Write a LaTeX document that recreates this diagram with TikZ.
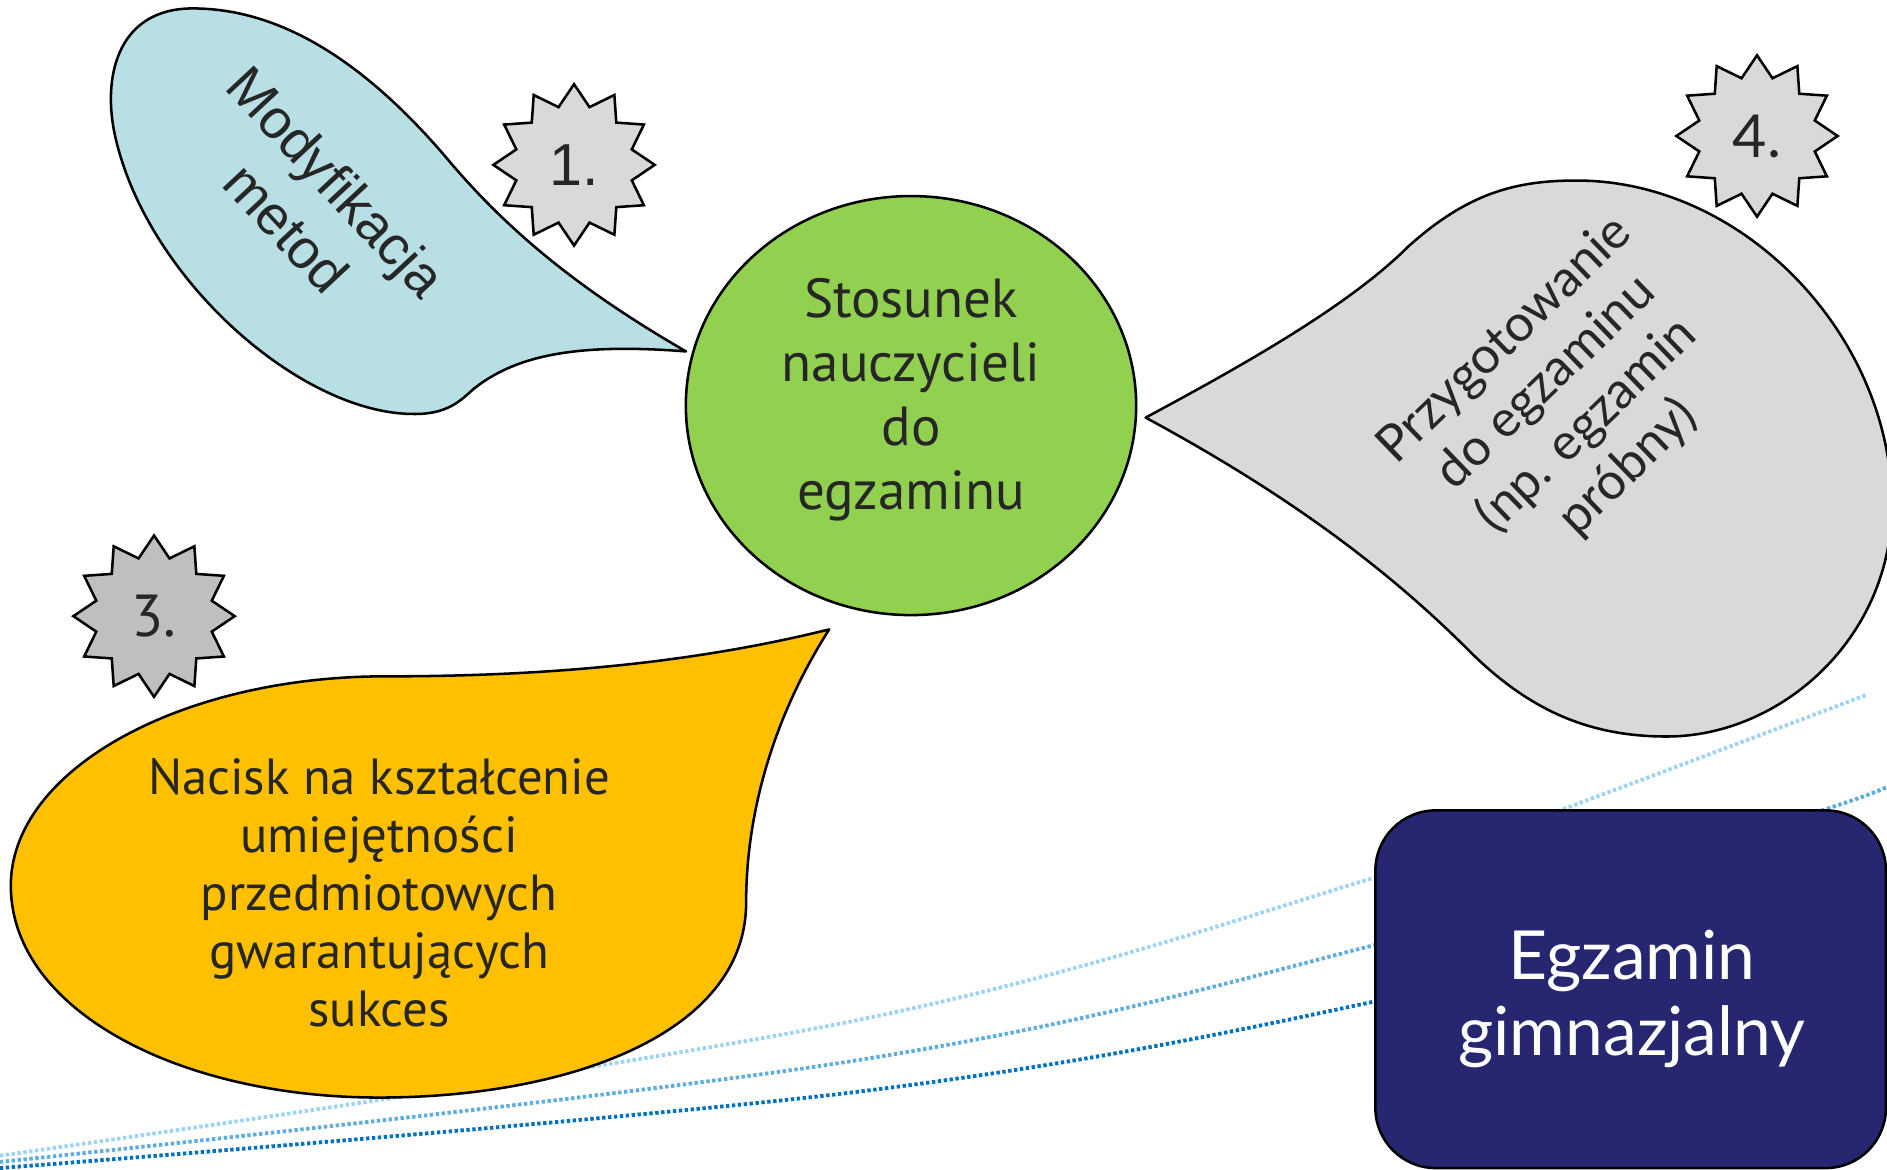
\documentclass[tikz,border=0pt]{standalone}
\usepackage{fontspec}
\setmainfont{PT Sans}
\newfontfamily\arialfont{Liberation Sans}
\newfontfamily\latofont{Lato}
\usepackage{tikz}
\usetikzlibrary{shapes.geometric}

\definecolor{textgray}{HTML}{262626}
\definecolor{dropblue}{HTML}{B7DFE4}
\definecolor{dropgray}{HTML}{D9D9D9}
\definecolor{dropgold}{HTML}{FFC000}
\definecolor{relgreen}{HTML}{92D050}
\definecolor{examnavy}{HTML}{262671}
\definecolor{starlight}{HTML}{D9D9D9}
\definecolor{stardark}{HTML}{BFBFBF}
\definecolor{dotlight}{HTML}{9DD3F5}
\definecolor{dotmid}{HTML}{5DADE2}
\definecolor{dotdark}{HTML}{0070C0}

\begin{document}
\begin{tikzpicture}[x=0.01cm, y=-0.01cm, line width=0.6pt,
drop/.style={draw=black, line join=round},
badge/.style={draw, star, star points=12, star point ratio=1.35,
minimum size=1.34cm, inner sep=0pt, text=textgray},
txt/.style={align=center, text=textgray, inner sep=0pt},
dots/.style={dash pattern=on 0.8pt off 0.6pt, line width=0.9pt}]
\useasboundingbox (0,0) rectangle (1568,972);

\draw[dots, dotlight] plot[smooth, tension=0.6] coordinates
{(-5,961) (706,849) (1143,729) (1300,672) (1552,577)};
\draw[dots, dotmid] plot[smooth, tension=0.6] coordinates
{(-5,966) (706,882) (1143,785) (1515,673) (1575,648)};
\draw[dots, dotdark] plot[smooth, tension=0.6] coordinates
{(-5,971) (706,908) (1143,832) (1400,760)};

\draw[drop, fill=dropblue] (570,292) .. controls (480,240) and (420,190) .. (370,130)
.. controls (310,60) and (240,7) .. (160,7)
.. controls (100,7) and (85,60) .. (95,110)
.. controls (120,230) and (250,345) .. (345,344)
.. controls (375,344) and (385,330) .. (395,322)
.. controls (430,295) and (480,285) .. (570,292) -- cycle;

\draw[drop, fill=dropgray] (952,347) .. controls (1030,305) and (1120,255) .. (1170,205)
.. controls (1220,160) and (1260,150) .. (1310,150)
.. controls (1450,150) and (1572,280) .. (1572,420)
.. controls (1572,530) and (1480,612) .. (1385,612)
.. controls (1320,612) and (1270,590) .. (1220,540)
.. controls (1140,460) and (1050,400) .. (952,347) -- cycle;

\draw[drop, fill=dropgold] (689,523) .. controls (560,555) and (430,562) .. (320,562)
.. controls (150,562) and (8,640) .. (9,737)
.. controls (10,840) and (150,912) .. (315,912)
.. controls (470,912) and (620,860) .. (620,750)
.. controls (620,680) and (640,600) .. (689,523) -- cycle;

\node[txt, rotate=-47, font=\arialfont\fontsize{13}{16}\selectfont] (modyf) at (259,170) {Modyfikacja\\metod};
\node[txt, rotate=44, font=\latofont\fontsize{12}{14}\selectfont] (przyg) at (1302,336) {Przygotowanie\\do egzaminu\\(np. egzamin\\próbny)};
\node[txt, font=\fontsize{12}{13.7}\selectfont] (nacisk) at (315,742) {Nacisk na kształcenie\\umiejętności\\przedmiotowych\\gwarantujących\\sukces};

\node[draw, ellipse, fill=relgreen, minimum width=3.74cm, minimum height=3.48cm, inner sep=0pt] (rel) at (757,337) {};
\node[txt, font=\fontsize{13}{15.1}\selectfont] (reltext) at (757,332) {Stosunek\\nauczycieli\\do\\egzaminu};

\node[draw, rounded corners=0.5cm, fill=examnavy, minimum width=4.24cm, minimum height=2.97cm] (exam) at (1355,822) {};
\node[txt, text=white, font=\latofont\fontsize{16}{17.9}\selectfont] (examtext) at (1356,830) {Egzamin\\gimnazjalny};

\node[badge, fill=starlight, font=\arialfont\fontsize{14}{16}\selectfont] (s1) at (477,137) {1.};
\node[badge, fill=stardark, font=\fontsize{14}{16}\selectfont] (s3) at (128,512) {3.};
\node[badge, fill=starlight, font=\latofont\fontsize{14}{16}\selectfont] (s4) at (1460,113) {4.};
\end{tikzpicture}
\end{document}
